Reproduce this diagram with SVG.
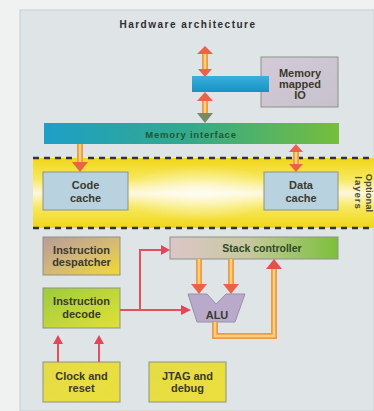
<svg xmlns="http://www.w3.org/2000/svg" width="374" height="411" viewBox="0 0 374 411">
<defs>
<style>
.lbl{font-family:"Liberation Sans",Arial,sans-serif;font-weight:bold;font-size:11px;fill:#3b3a2c;text-anchor:middle}
.box{stroke:#8d9288;stroke-width:1}
.red{stroke:#e2505e;stroke-width:2;fill:none}
.redh{fill:#e2465a}
.sh{stroke:#ee9848;stroke-width:6;fill:none}
.shi{stroke:#f8d278;stroke-width:2.5;fill:none}
.hd{fill:#ec6248}
</style>
<linearGradient id="band" x1="0" y1="0" x2="0" y2="1">
<stop offset="0" stop-color="#f1d616"/>
<stop offset="0.3" stop-color="#f7e860"/>
<stop offset="0.5" stop-color="#fdf8dc"/>
<stop offset="0.7" stop-color="#f7e860"/>
<stop offset="1" stop-color="#f1d616"/>
</linearGradient>
<radialGradient id="glow" cx="0.5" cy="0.5" r="0.5">
<stop offset="0" stop-color="#ffffff" stop-opacity="0.7"/>
<stop offset="1" stop-color="#ffffff" stop-opacity="0"/>
</radialGradient>
<linearGradient id="mi" x1="0" y1="0" x2="1" y2="0">
<stop offset="0" stop-color="#1e9fc8"/>
<stop offset="0.5" stop-color="#34a98a"/>
<stop offset="1" stop-color="#76be3c"/>
</linearGradient>
<linearGradient id="sc" x1="0" y1="0" x2="1" y2="0">
<stop offset="0" stop-color="#dcc6c8"/>
<stop offset="0.45" stop-color="#c8c8a0"/>
<stop offset="1" stop-color="#7cc03a"/>
</linearGradient>
<linearGradient id="id1" x1="0" y1="0" x2="1" y2="1">
<stop offset="0" stop-color="#b89c98"/>
<stop offset="0.5" stop-color="#d4b878"/>
<stop offset="1" stop-color="#f2da30"/>
</linearGradient>
<linearGradient id="id2" x1="0" y1="0" x2="1" y2="1">
<stop offset="0" stop-color="#9ccc3c"/>
<stop offset="1" stop-color="#e2e038"/>
</linearGradient>
<linearGradient id="yb" x1="0" y1="0" x2="1" y2="1">
<stop offset="0" stop-color="#e4dc48"/>
<stop offset="1" stop-color="#ecdf3c"/>
</linearGradient>
<linearGradient id="mm" x1="0" y1="0" x2="1" y2="1">
<stop offset="0" stop-color="#d4cad8"/>
<stop offset="1" stop-color="#c6c2cc"/>
</linearGradient>
<linearGradient id="bar" x1="0" y1="0" x2="0" y2="1">
<stop offset="0" stop-color="#3ab0dc"/>
<stop offset="1" stop-color="#1592c4"/>
</linearGradient>
</defs>

<rect x="0" y="0" width="374" height="411" fill="#f0f1f1"/>
<rect x="20" y="10" width="354" height="401" fill="#dfe4e7" stroke="#c9ced1" stroke-width="1"/>

<text id="title" x="188" y="28" font-family="'Liberation Sans',Arial,sans-serif" font-size="10" font-weight="bold" letter-spacing="1.5" fill="#2e2e2e" text-anchor="middle">Hardware architecture</text>

<g id="optional-layers">
<rect x="33" y="158" width="341" height="70" fill="url(#band)"/>
<rect x="120" y="165" width="160" height="56" fill="url(#glow)"/>
<line x1="33" y1="158" x2="374" y2="158" stroke="#333" stroke-width="2.5" stroke-dasharray="6,5"/>
<line x1="33" y1="228" x2="374" y2="228" stroke="#333" stroke-width="2.5" stroke-dasharray="6,5"/>
<text transform="translate(366,193) rotate(90)" font-family="'Liberation Sans',Arial,sans-serif" font-size="9.5" font-weight="bold" fill="#4a4a3a" text-anchor="middle">Optional</text>
<text transform="translate(354.5,193) rotate(90)" font-family="'Liberation Sans',Arial,sans-serif" font-size="9.5" font-weight="bold" fill="#4a4a3a" text-anchor="middle" letter-spacing="1">layers</text>
</g>

<g id="memory-mapped-io">
<rect class="box" x="261" y="57" width="77" height="50" fill="url(#mm)"/>
<text class="lbl" x="300" y="77">Memory</text>
<text class="lbl" x="300" y="88">mapped</text>
<text class="lbl" x="300" y="99">IO</text>
</g>

<g id="bus">
<rect x="192" y="76" width="77" height="16" fill="url(#bar)"/>
</g>

<g id="memory-interface">
<rect x="44" y="123" width="295" height="21" fill="url(#mi)"/>
<text x="191" y="138" font-family="'Liberation Sans',Arial,sans-serif" font-size="9.5" font-weight="bold" letter-spacing="0.8" fill="#1d5a34" text-anchor="middle">Memory interface</text>
</g>

<g id="code-cache">
<rect class="box" x="43" y="172" width="85" height="38" fill="#b9d2e0"/>
<text class="lbl" x="85.5" y="189" font-size="12">Code</text>
<text class="lbl" x="85.5" y="202" font-size="12">cache</text>
</g>

<g id="data-cache">
<rect class="box" x="264" y="172" width="74" height="38" fill="#b9d2e0"/>
<text class="lbl" x="301" y="189" style="font-size:11px">Data</text>
<text class="lbl" x="301" y="202" style="font-size:11px">cache</text>
</g>

<g id="instruction-despatcher">
<rect class="box" x="43" y="237" width="77" height="38" fill="url(#id1)"/>
<text class="lbl" x="81.5" y="254">Instruction</text>
<text class="lbl" x="81.5" y="266">despatcher</text>
</g>

<g id="stack-controller">
<rect class="box" x="170" y="237" width="168" height="22" fill="url(#sc)"/>
<text x="262" y="252" font-family="'Liberation Sans',Arial,sans-serif" font-size="10.5" font-weight="bold" fill="#2c4a26" text-anchor="middle">Stack controller</text>
</g>

<g id="instruction-decode">
<rect class="box" x="43" y="288" width="77" height="40" fill="url(#id2)"/>
<text class="lbl" x="81.5" y="305">Instruction</text>
<text class="lbl" x="81.5" y="318">decode</text>
</g>

<g id="alu">
<path d="M188,294 L207,294 L216,304 L226,294 L245,294 L235,322 L197,322 Z" fill="#b9aacb" stroke="#9a90a8" stroke-width="1"/>
<text class="lbl" x="217" y="319" style="font-size:11px" fill="#332e48">ALU</text>
</g>

<g id="clock-and-reset">
<rect class="box" x="43" y="362" width="77" height="40" fill="url(#yb)"/>
<text class="lbl" x="81.5" y="380">Clock and</text>
<text class="lbl" x="81.5" y="392">reset</text>
</g>

<g id="jtag-and-debug">
<rect class="box" x="149" y="362" width="77" height="40" fill="url(#yb)"/>
<text class="lbl" x="187.5" y="380">JTAG and</text>
<text class="lbl" x="187.5" y="392">debug</text>
</g>

<g id="connectors">
<!-- top double arrow to bus -->
<path class="sh" d="M205,52 V72"/>
<path class="shi" d="M205,52 V72"/>
<polygon class="hd" points="205,46 213,54 197,54"/>
<polygon class="hd" points="205,77 198,69 212,69"/>
<!-- bus to memory interface -->
<path class="sh" d="M205,98 V117"/>
<path class="shi" d="M205,98 V117"/>
<polygon class="hd" points="205,92 213,101 197,101"/>
<polygon points="205,123 197,113 213,113" fill="#7a8a62"/>
<!-- memory interface to code cache -->
<path class="sh" d="M80,144 V164"/>
<path class="shi" d="M80,144 V164"/>
<polygon class="hd" points="80,172 72,162 88,162"/>
<!-- memory interface to data cache -->
<path class="sh" d="M296,150 V166"/>
<path class="shi" d="M296,150 V166"/>
<polygon class="hd" points="296,144 303,152 289,152"/>
<polygon class="hd" points="296,172 289,164 303,164"/>
<!-- stack controller to ALU -->
<path class="sh" d="M199,259 V286"/>
<path class="shi" d="M199,259 V286"/>
<polygon class="hd" points="199,294 191,284 207,284"/>
<path class="sh" d="M231,259 V286"/>
<path class="shi" d="M231,259 V286"/>
<polygon class="hd" points="231,294 223,284 239,284"/>
<!-- ALU output loop back to stack controller -->
<path class="sh" d="M215,322 V336 H274 V268"/>
<path class="shi" d="M215,322 V336 H274 V268"/>
<polygon points="274,259 266,269 282,269" fill="#e4504a"/>
<!-- instruction decode to ALU and stack controller -->
<path class="red" d="M120,310 H183"/>
<polygon class="redh" points="191,310 181,305 181,315"/>
<path class="red" d="M140,310 V250 H163"/>
<polygon class="redh" points="170,250 161,245 161,255"/>
<!-- clock and reset to instruction decode -->
<path class="red" d="M58,362 V342"/>
<polygon class="redh" points="58,335 53,344 63,344"/>
<path class="red" d="M99,362 V342"/>
<polygon class="redh" points="99,335 94,344 104,344"/>
</g>
</svg>
